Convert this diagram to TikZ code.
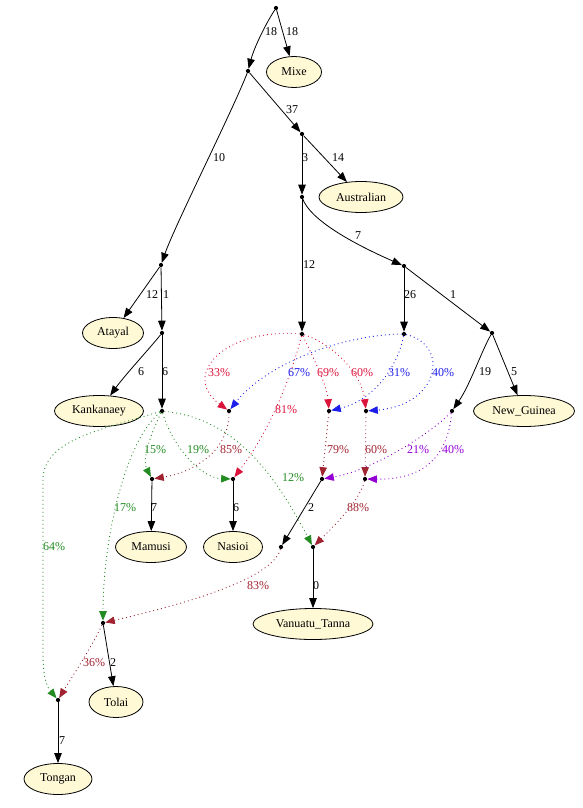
\documentclass[tikz,border=0pt]{standalone}
\usepackage{fontspec}
\setmainfont{Liberation Serif}
\usetikzlibrary{shapes.geometric,arrows.meta}
\definecolor{cream}{RGB}{255,249,214}
\definecolor{cred}{RGB}{220,20,60}
\definecolor{cblue}{RGB}{30,30,235}
\definecolor{cgreen}{RGB}{34,139,34}
\definecolor{cmaroon}{RGB}{160,35,50}
\definecolor{cpurple}{RGB}{148,0,211}
\tikzset{
  pnode/.style={circle, fill=black, inner sep=0pt, minimum size=4.2pt},
  leaf/.style={ellipse, draw=black, line width=0.8pt, fill=cream, inner sep=0pt, minimum height=31pt, font=\fontsize{12}{14}\selectfont},
  sol/.style={draw=black, line width=0.8pt, -{Triangle[length=10pt,width=7.5pt]}},
  dotl/.style={line width=0.9pt, dash pattern=on 0.9pt off 3.1pt, -{Triangle[length=9.5pt,width=7.5pt]}},
  lab/.style={anchor=west, inner sep=0pt, font=\fontsize{12}{14}\selectfont},
}
\begin{document}
\begin{tikzpicture}[x=1pt,y=-1pt]
\useasboundingbox (0,0) rectangle (583,808);
% point nodes
\node[pnode] (R) at (276,8) {};
\node[pnode] (A) at (248,71) {};
\node[pnode] (B) at (302,134) {};
\node[pnode] (D) at (302,197) {};
\node[pnode] (F) at (404,266) {};
\node[pnode] (E) at (302,334) {};
\node[pnode] (G) at (404,334) {};
\node[pnode] (H) at (492,333) {};
\node[pnode] (I) at (452,411) {};
\node[pnode] (C) at (161,265) {};
\node[pnode] (J) at (162,333) {};
\node[pnode] (K) at (162,411) {};
\node[pnode] (L) at (229,411) {};
\node[pnode] (M) at (329,411) {};
\node[pnode] (N) at (366,411) {};
\node[pnode] (V) at (152,479) {};
\node[pnode] (W) at (233,479) {};
\node[pnode] (O) at (322,479) {};
\node[pnode] (Q) at (365,479) {};
\node[pnode] (P) at (281,547) {};
\node[pnode] (S) at (313,547) {};
\node[pnode] (T) at (103,623) {};
\node[pnode] (U) at (58,700) {};
% leaves
\node[leaf, minimum width=55pt] (mixe) at (294,72) {Mixe};
\node[leaf, minimum width=84pt] (austr) at (361,197) {Australian};
\node[leaf, minimum width=101pt] (ng) at (524,411) {New\_Guinea};
\node[leaf, minimum width=61pt] (atayal) at (113,333) {Atayal};
\node[leaf, minimum width=89pt] (kank) at (99,411) {Kankanaey};
\node[leaf, minimum width=71pt] (mamusi) at (151,547) {Mamusi};
\node[leaf, minimum width=59pt] (nasioi) at (233,547) {Nasioi};
\node[leaf, minimum width=120pt] (vanuatu) at (313,624) {Vanuatu\_Tanna};
\node[leaf, minimum width=54pt] (tolai) at (116,702) {Tolai};
\node[leaf, minimum width=68pt] (tongan) at (58,779) {Tongan};
% solid edges
\draw[sol] (R) .. controls (265,25) and (254,48) .. (A);
\draw[sol] (R) -- (mixe);
\draw[sol] (A) -- (B);
\draw[sol] (A) .. controls (232,112) and (175,225) .. (C);
\draw[sol] (B) -- (D);
\draw[sol] (B) -- (austr);
\draw[sol] (D) .. controls (310,218) and (345,240) .. (F);
\draw[sol] (D) -- (E);
\draw[sol] (F) -- (G);
\draw[sol] (F) -- (H);
\draw[sol] (H) -- (ng);
\draw[sol] (H) .. controls (482,350) and (470,385) .. (I);
\draw[sol] (C) -- (atayal);
\draw[sol] (C) -- (J);
\draw[sol] (J) .. controls (150,348) and (125,375) .. (kank);
\draw[sol] (J) -- (K);
\draw[sol] (V) -- (mamusi);
\draw[sol] (W) -- (nasioi);
\draw[sol] (O) -- (P);
\draw[sol] (S) -- (vanuatu);
\draw[sol] (T) -- (tolai);
\draw[sol] (U) -- (tongan);
% solid labels
\node[lab] at (265,32) {18};
\node[lab] at (286,32) {18};
\node[lab] at (286,110) {37};
\node[lab] at (213,158) {10};
\node[lab] at (302,158) {3};
\node[lab] at (332,158) {14};
\node[lab] at (355,236) {7};
\node[lab] at (303,265) {12};
\node[lab] at (404,295) {26};
\node[lab] at (450,295) {1};
\node[lab] at (146,295) {12};
\node[lab] at (163,295) {1};
\node[lab] at (138,372) {6};
\node[lab] at (162,372) {6};
\node[lab] at (479,372) {19};
\node[lab] at (511,372) {5};
\node[lab] at (151,508) {7};
\node[lab] at (233,508) {6};
\node[lab] at (308,508) {2};
\node[lab] at (313,586) {0};
\node[lab] at (110,663) {2};
\node[lab] at (59,741) {7};
% red edges (from E)
\draw[dotl, cred] (E) .. controls (225,328) and (180,375) .. (L);
\draw[dotl, cred] (E) .. controls (312,355) and (327,385) .. (M);
\draw[dotl, cred] (E) .. controls (335,345) and (362,375) .. (N);
\draw[dotl, cred] (E) .. controls (290,380) and (270,430) .. (W);
% blue edges (from G)
\draw[dotl, cblue] (G) .. controls (340,335) and (265,365) .. (L);
\draw[dotl, cblue] (G) .. controls (398,365) and (375,400) .. (M);
\draw[dotl, cblue] (G) .. controls (450,345) and (440,405) .. (N);
% green edges (from K)
\draw[dotl, cgreen] (K) .. controls (150,435) and (142,460) .. (V);
\draw[dotl, cgreen] (K) .. controls (172,445) and (200,478) .. (W);
\draw[dotl, cgreen] (K) .. controls (230,418) and (270,465) .. (S);
\draw[dotl, cgreen] (K) .. controls (125,440) and (103,540) .. (T);
\draw[dotl, cgreen] (K) .. controls (100,430) and (43,440) .. (43,480) -- (43,655) .. controls (43,680) and (48,688) .. (U);
% purple edges (from I)
\draw[dotl, cpurple] (I) .. controls (435,430) and (375,470) .. (O);
\draw[dotl, cpurple] (I) .. controls (448,450) and (430,480) .. (Q);
% maroon edges
\draw[dotl, cmaroon] (L) .. controls (229,450) and (195,472) .. (V);
\draw[dotl, cmaroon] (M) -- (O);
\draw[dotl, cmaroon] (N) -- (Q);
\draw[dotl, cmaroon] (Q) .. controls (360,500) and (335,525) .. (S);
\draw[dotl, cmaroon] (P) .. controls (272,580) and (180,605) .. (T);
\draw[dotl, cmaroon] (T) .. controls (90,650) and (70,680) .. (U);
% percent labels
\node[lab, text=cred] at (208,373) {33\%};
\node[lab, text=cblue] at (288,373) {67\%};
\node[lab, text=cred] at (317,373) {69\%};
\node[lab, text=cred] at (351,373) {60\%};
\node[lab, text=cblue] at (388,373) {31\%};
\node[lab, text=cblue] at (432,373) {40\%};
\node[lab, text=cred] at (275,410) {81\%};
\node[lab, text=cgreen] at (144,450) {15\%};
\node[lab, text=cgreen] at (187,450) {19\%};
\node[lab, text=cmaroon] at (220,450) {85\%};
\node[lab, text=cmaroon] at (327,450) {79\%};
\node[lab, text=cmaroon] at (365,450) {60\%};
\node[lab, text=cpurple] at (407,450) {21\%};
\node[lab, text=cpurple] at (442,450) {40\%};
\node[lab, text=cgreen] at (282,478) {12\%};
\node[lab, text=cgreen] at (114,508) {17\%};
\node[lab, text=cmaroon] at (347,508) {88\%};
\node[lab, text=cgreen] at (43,547) {64\%};
\node[lab, text=cmaroon] at (247,586) {83\%};
\node[lab, text=cmaroon] at (83,663) {36\%};
\end{tikzpicture}
\end{document}
